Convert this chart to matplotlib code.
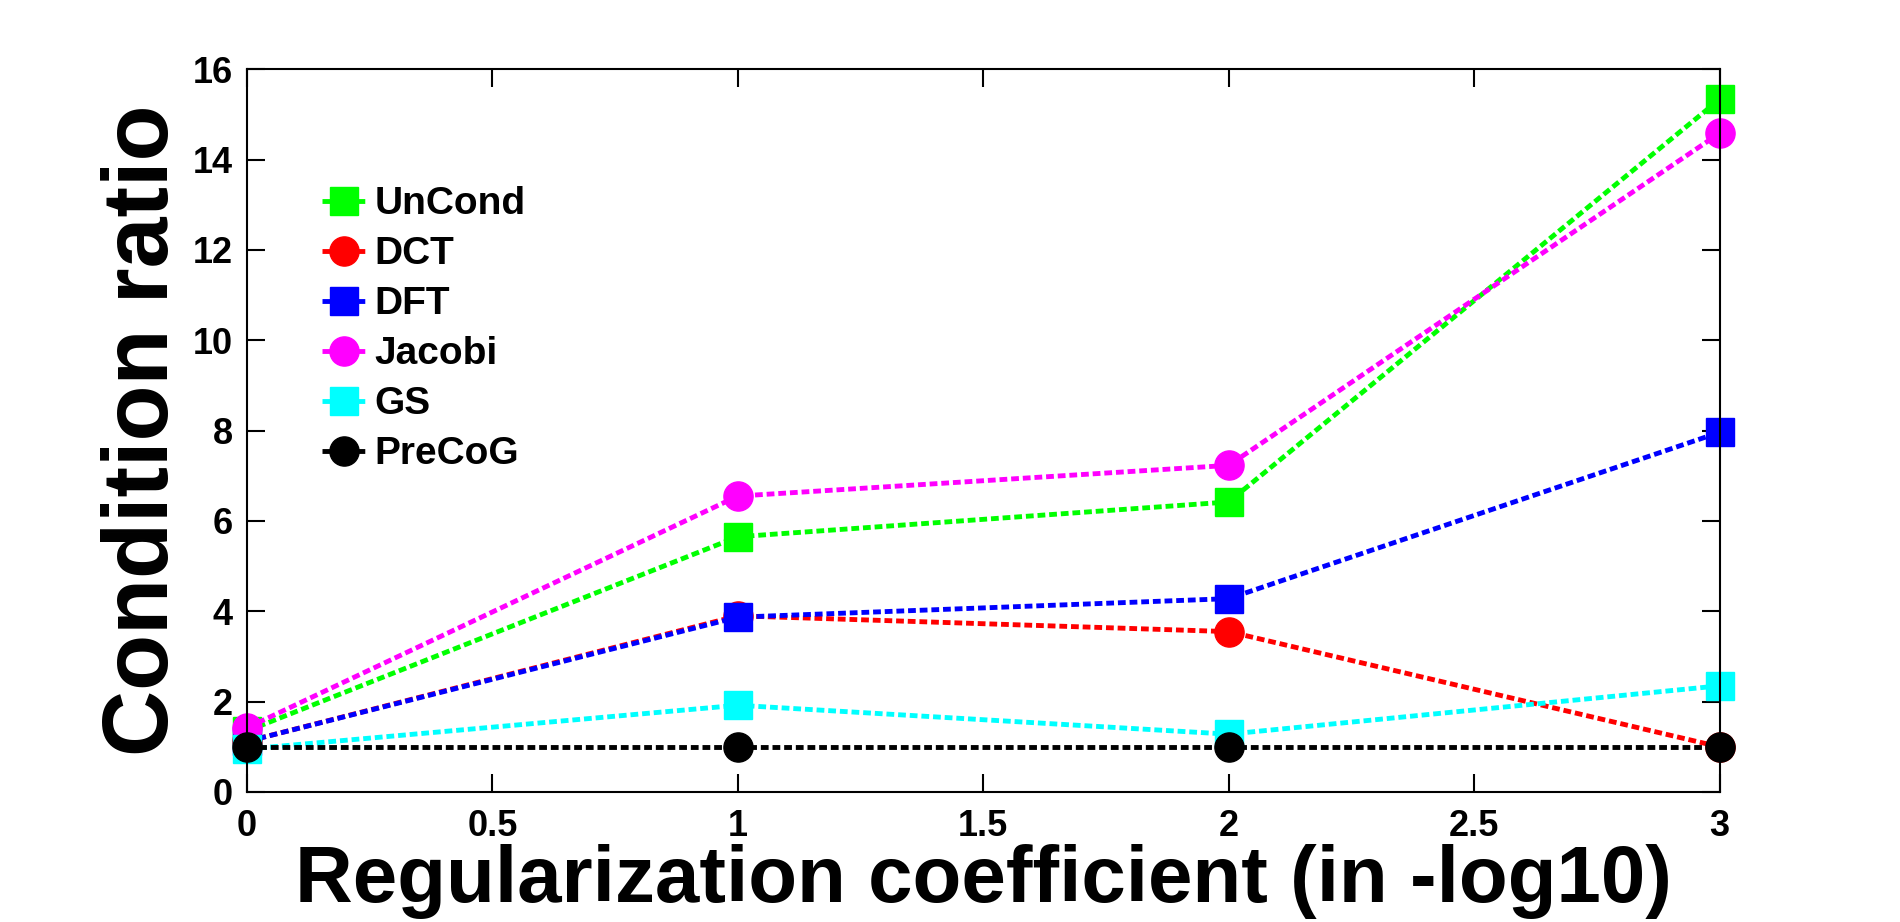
import matplotlib
matplotlib.use('Agg')
from matplotlib import pyplot as plt

# regularization coefficient (in -log10)
x = [0, 1, 2, 3]

unCond = [1.35, 5.65, 6.42, 15.33]
dct = [1.12, 3.90, 3.55, 1.00]
dft = [1.12, 3.87, 4.28, 7.96]
jacobi = [1.42, 6.55, 7.23, 14.58]
gs = [0.95, 1.92, 1.28, 2.35]
preCoG = [1.00, 1.00, 1.00, 1.00]

names = ['UnCond', 'DCT', 'DFT', 'Jacobi', 'GS', 'PreCoG']
series = [unCond, dct, dft, jacobi, gs, preCoG]
colors = ['#00ff00', '#ff0000', '#0000ff', '#ff00ff', '#00ffff', '#000000']
markers = ['s', 'o', 's', 'o', 's', 'o']

plt.rcParams['font.family'] = ['Liberation Sans', 'DejaVu Sans']
plt.rcParams['font.weight'] = 'bold'

fig = plt.figure(figsize=(19, 9.22), dpi=100)  # 1900x922
ax = fig.add_axes([0.130, 0.141, 0.775, 0.784])

for name, ys, c, m in zip(names, series, colors, markers):
    ax.plot(x, ys, color=c, linestyle=(0, (1.6, 0.8)), linewidth=3.5,
            marker=m, markersize=19.5 if m == 's' else 21,
            markerfacecolor=c, markeredgecolor=c, label=name, clip_on=False)

ax.set_xlim(0, 3)
ax.set_ylim(0, 16)
ax.set_xticks([0, 0.5, 1, 1.5, 2, 2.5, 3])
ax.set_xticklabels(['0', '0.5', '1', '1.5', '2', '2.5', '3'])
ax.set_yticks(range(0, 17, 2))
ax.tick_params(direction='in', length=13, width=1.5, top=True, right=True,
               labelsize=26, pad=12)
ax.tick_params(axis='y', pad=10)
for s in ax.spines.values():
    s.set_linewidth(1.5)

ax.set_xlabel('Regularization coefficient (in -log10)', fontsize=57.5,
              fontweight='bold', labelpad=0)
ax.set_ylabel('Condition ratio', fontsize=66, fontweight='bold', labelpad=4)

leg = ax.legend(loc='upper left', bbox_to_anchor=(0.051, 0.838), frameon=False,
                fontsize=28, handlelength=1.15, handletextpad=0.2,
                labelspacing=0.36, borderpad=0, borderaxespad=0)

plt.savefig('out.png', dpi=100)
